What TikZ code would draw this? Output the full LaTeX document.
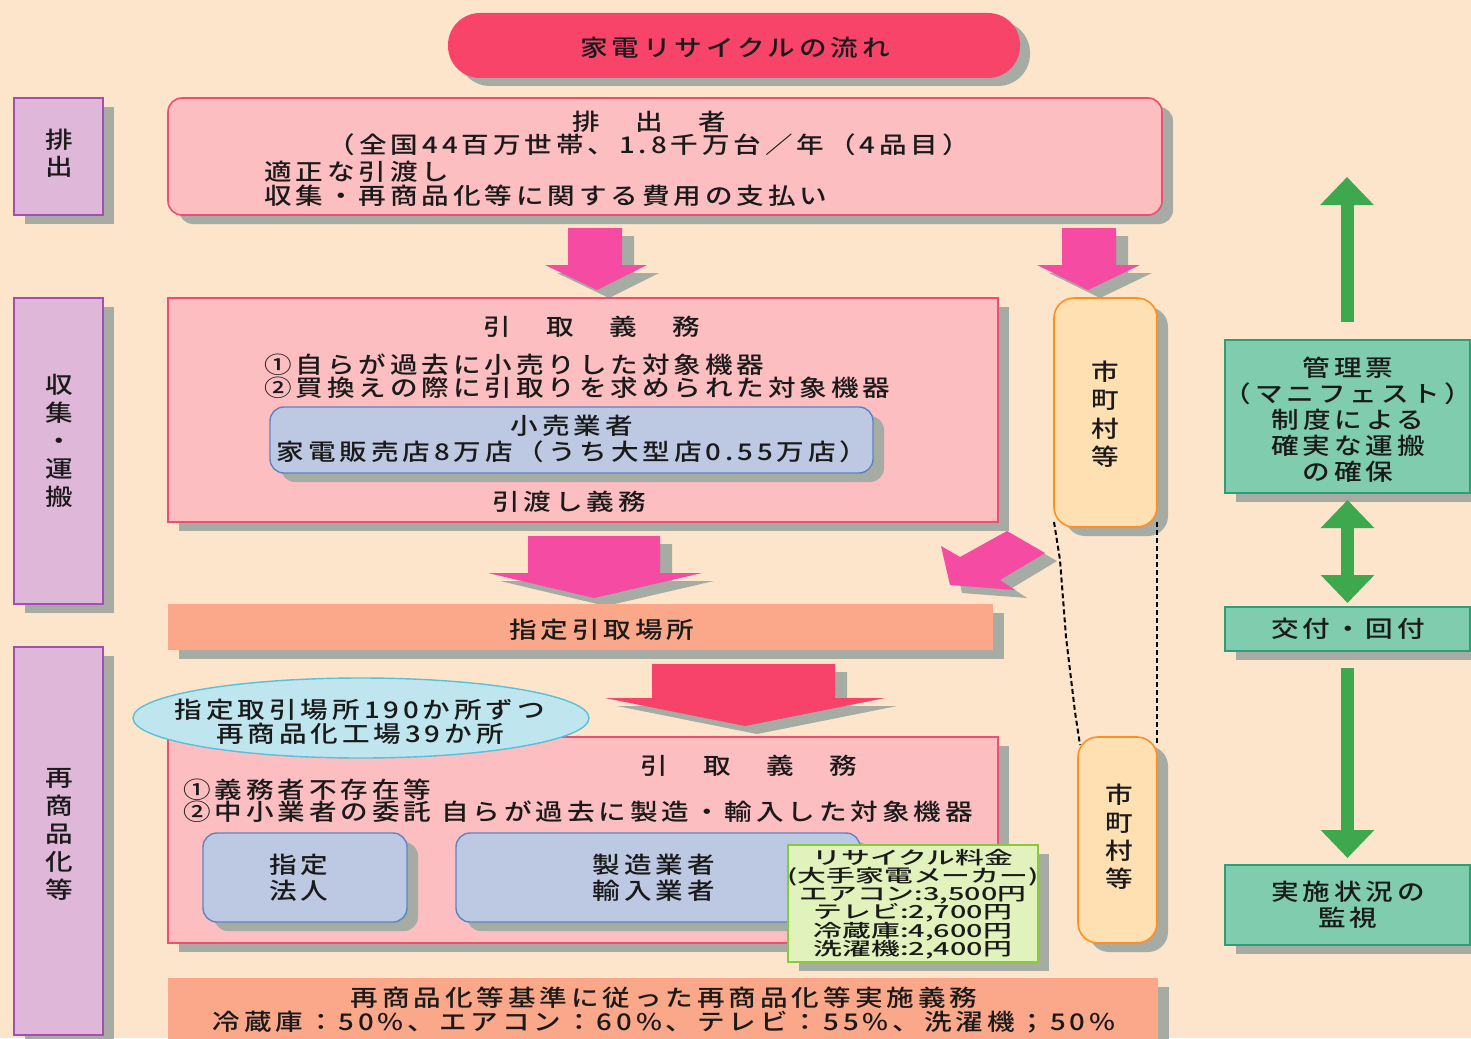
\documentclass[tikz,border=0pt]{standalone}
\usepackage{fontspec}
\newfontfamily\jp[UprightFont={* Medium},FakeStretch=1.2,LetterSpace=17]{Noto Sans CJK JP}
\newfontfamily\jpt[UprightFont={* Medium},FakeStretch=1.6]{Noto Sans CJK JP}
\newcommand\feefont{\jpt\fontsize{18}{18.3}\selectfont\lineskiplimit=-30pt\relax\lineskip=0pt\relax}
\usetikzlibrary{shadows,fit,arrows.meta,shapes.geometric}
\definecolor{bgc}{HTML}{FDE5CC}
\definecolor{shc}{HTML}{A6ACA3}
\definecolor{titlec}{HTML}{F84468}
\definecolor{pinkf}{HTML}{FCBEC0}
\definecolor{pinkb}{HTML}{EE4F6E}
\definecolor{lavf}{HTML}{DEB7D9}
\definecolor{lavb}{HTML}{A64CB5}
\definecolor{bluef}{HTML}{BDC9E2}
\definecolor{blueb}{HTML}{5B84C4}
\definecolor{munif}{HTML}{FFE0B2}
\definecolor{munib}{HTML}{FF9020}
\definecolor{salmon}{HTML}{FBA789}
\definecolor{pinkarr}{HTML}{F54BA2}
\definecolor{redarr}{HTML}{F7436A}
\definecolor{ellf}{HTML}{BFE6EE}
\definecolor{ellb}{HTML}{58C0DA}
\definecolor{feef}{HTML}{E2F2BC}
\definecolor{feeb}{HTML}{84CC3E}
\definecolor{greenf}{HTML}{80CCAE}
\definecolor{greenb}{HTML}{2E9E78}
\definecolor{garr}{HTML}{3EA84E}
\definecolor{txtc}{HTML}{1A1A1A}
\tikzset{
  every node/.style={inner sep=0pt, outer sep=0pt},
  shad/.style={drop shadow={shadow xshift=11pt, shadow yshift=-9pt, fill=shc, opacity=1}},
  txt/.style={font=\jp\fontsize{23}{26}\selectfont, text=txtc, align=center},
  vtxt/.style={font=\jp\fontsize{23}{#1}\selectfont, text=txtc, align=center},
  txtf/.style={font=\feefont, text=txtc, align=center},
  lavbox/.style={fit={#1}, draw=lavb, fill=lavf, line width=1.6pt, shad},
  pinkbox/.style={fit={#1}, draw=pinkb, fill=pinkf, line width=1.6pt, shad},
  bluebox/.style={fit={#1}, draw=blueb, fill=bluef, line width=1.4pt, rounded corners=14pt, shad},
  munibox/.style={fit={#1}, draw=munib, fill=munif, line width=1.6pt, rounded corners=20pt, shad},
  salbox/.style={fit={#1}, fill=salmon, shad},
  greenbox/.style={fit={#1}, draw=greenb, fill=greenf, line width=1.6pt, shad},
  garrow/.style={draw=garr, line width=13pt},
  dashline/.style={draw=black, line width=2pt, dash pattern=on 5pt off 3pt},
}
\begin{document}
\begin{tikzpicture}[x=1pt,y=-1pt]
\useasboundingbox (0,0) rectangle (1471,1038);
\fill[bgc] (0,0) rectangle (1471,1038);

% title
\node[fit={(448,13) (1020,78)}, fill=titlec, rounded corners=32pt, drop shadow={shadow xshift=10pt, shadow yshift=-8pt, fill=shc, opacity=1}] (title) {};
\node[txt] (titlet) at (735,48) {家電リサイクルの流れ};

% left labels
\node[lavbox={(14,98) (103,215)}] (lab1) {};
\node[vtxt=27] (lab1t) at (59,153) {排\\出};
\node[lavbox={(14,298) (103,604)}] (lab2) {};
\node[vtxt=28] (lab2t) at (59,441) {収\\集\\・\\運\\搬};
\node[lavbox={(14,647) (103,1035)}] (lab3) {};
\node[vtxt=28] (lab3t) at (59,834) {再\\商\\品\\化\\等};

% top box
\node[pinkbox={(168,98) (1162,215)}, rounded corners=14pt] (top) {};
\node[txt] (topt1) at (649,122) {排　出　者};
\node[txt] (topt2) at (649,145) {（全国44百万世帯、1.8千万台／年（4品目）};
\node[txt, anchor=west] (topt3) at (264,172) {適正な引渡し};
\node[txt, anchor=west] (topt4) at (264,196) {収集・再商品化等に関する費用の支払い};

% top pink arrows
\fill[shc, shift={(12,8)}] (568,228) -- (622,228) -- (622,265) -- (647,265) -- (597,290) -- (545,265) -- (568,265) -- cycle;
\fill[pinkarr] (568,228) -- (622,228) -- (622,265) -- (647,265) -- (597,290) -- (545,265) -- (568,265) -- cycle;
\fill[shc, shift={(12,8)}] (1062,228) -- (1116,228) -- (1116,265) -- (1140,265) -- (1088,290) -- (1037,265) -- (1062,265) -- cycle;
\fill[pinkarr] (1062,228) -- (1116,228) -- (1116,265) -- (1140,265) -- (1088,290) -- (1037,265) -- (1062,265) -- cycle;

% middle box
\node[pinkbox={(168,298) (998,522)}] (mid) {};
\node[txt] (midt1) at (592,327) {引　取　義　務};
\node[txt, anchor=west] (midt2) at (264,365) {①自らが過去に小売りした対象機器};
\node[txt, anchor=west] (midt3) at (264,388) {②買換えの際に引取りを求められた対象機器};
\node[bluebox={(270,407) (873,473)}] (retail) {};
\node[txt] (retailt1) at (572,426) {小売業者};
\node[txt] (retailt2) at (572,452) {家電販売店8万店（うち大型店0.55万店）};
\node[txt] (midt4) at (569,502) {引渡し義務};

% municipality 1
\node[munibox={(1054,298) (1157,527)}] (m1) {};
\node[vtxt=28.5] (m1t) at (1105,414) {市\\町\\村\\等};

% middle pink arrow
\fill[shc, shift={(12,8)}] (528,536) -- (660,536) -- (660,573) -- (702,573) -- (594,598) -- (488,573) -- (528,573) -- cycle;
\fill[pinkarr] (528,536) -- (660,536) -- (660,573) -- (702,573) -- (594,598) -- (488,573) -- (528,573) -- cycle;

% diagonal arrow
\fill[shc, shift={(12,8)}] (1007,531) -- (1045,553) -- (1000,580) -- (1015,590) -- (950,585) -- (941,546) -- (960,557) -- cycle;
\fill[pinkarr] (1007,531) -- (1045,553) -- (1000,580) -- (1015,590) -- (950,585) -- (941,546) -- (960,557) -- cycle;

% designated place
\node[salbox={(168,604) (993,650)}] (place) {};
\node[txt] (placet) at (602,630) {指定引取場所};

% red arrow
\fill[shc, shift={(12,8)}] (652,664) -- (835,664) -- (835,698) -- (885,698) -- (745,726) -- (605,698) -- (652,698) -- cycle;
\fill[redarr] (652,664) -- (835,664) -- (835,698) -- (885,698) -- (745,726) -- (605,698) -- (652,698) -- cycle;

% lower box
\node[pinkbox={(168,737) (998,943)}] (low) {};
\node[txt] (lowt1) at (749,766) {引　取　義　務};
\node[txt, anchor=west] (lowt2) at (183,790) {①義務者不存在等};
\node[txt, anchor=west] (lowt3) at (183,812) {②中小業者の委託 自らが過去に製造・輸入した対象機器};
\node[bluebox={(203,833) (407,922)}] (corp) {};
\node[vtxt=26] (corpt) at (299,878) {指定\\法人};
\node[bluebox={(456,833) (860,922)}] (maker) {};
\node[vtxt=26] (makert) at (654,878) {製造業者\\輸入業者};

% ellipse
\node[ellipse, draw=ellb, fill=ellf, line width=1.4pt, minimum width=456pt, minimum height=80pt] (ell) at (361,718) {};
\node[vtxt=24] (ellt) at (360,722) {指定取引場所190か所ずつ\\再商品化工場39か所};

% fee box
\node[fit={(788,845) (1038,962)}, draw=feeb, fill=feef, line width=1.6pt, shad] (fee) {};
\node[txtf] (feet) at (913,904) {リサイクル料金\\(大手家電メーカー)\\エアコン:3,500円\\テレビ:2,700円\\冷蔵庫:4,600円\\洗濯機:2,400円};

% municipality 2
\node[munibox={(1078,737) (1157,943)}] (m2) {};
\node[vtxt=28] (m2t) at (1119,837) {市\\町\\村\\等};

% dashed connectors
\draw[dashline] ([yshift=5pt]m1.south west) -- (1060,560) -- (1066,637) -- (1075,712) -- ([xshift=2pt,yshift=-8pt]m2.north west);
\draw[dashline] ([yshift=5pt]m1.south east) -- ([yshift=-8pt]m2.north east);

% bottom bar
\node[salbox={(168,978) (1158,1045)}] (std) {};
\node[txt] (stdt1) at (664,998) {再商品化等基準に従った再商品化等実施義務};
\node[txt] (stdt2) at (664,1022) {冷蔵庫：50\%、エアコン：60\%、テレビ：55\%、洗濯機；50\%};

% right column
\node[greenbox={(1225,340) (1470,493)}] (g1) {};
\node[vtxt=26] (g1t) at (1348,420) {管理票\\（マニフェスト）\\制度による\\確実な運搬\\の確保};
\node[greenbox={(1225,607) (1470,651)}] (g2) {};
\node[txt] (g2t) at (1348,629) {交付・回付};
\node[greenbox={(1225,865) (1470,945)}] (g3) {};
\node[vtxt=26] (g3t) at (1348,905) {実施状況の\\監視};
\coordinate (upbot) at (1347,322);
\coordinate (uptop) at (1347,177);
\draw[garrow, -{Triangle[width=52pt,length=28pt]}] (upbot) -- (uptop);
\draw[garrow, {Triangle[width=52pt,length=28pt]}-{Triangle[width=52pt,length=28pt]}] ([yshift=-7pt]g1.south) -- ([yshift=4pt]g2.north);
\draw[garrow, -{Triangle[width=52pt,length=28pt]}] ([yshift=-17pt]g2.south) -- ([yshift=7pt]g3.north);
\end{tikzpicture}
\end{document}
